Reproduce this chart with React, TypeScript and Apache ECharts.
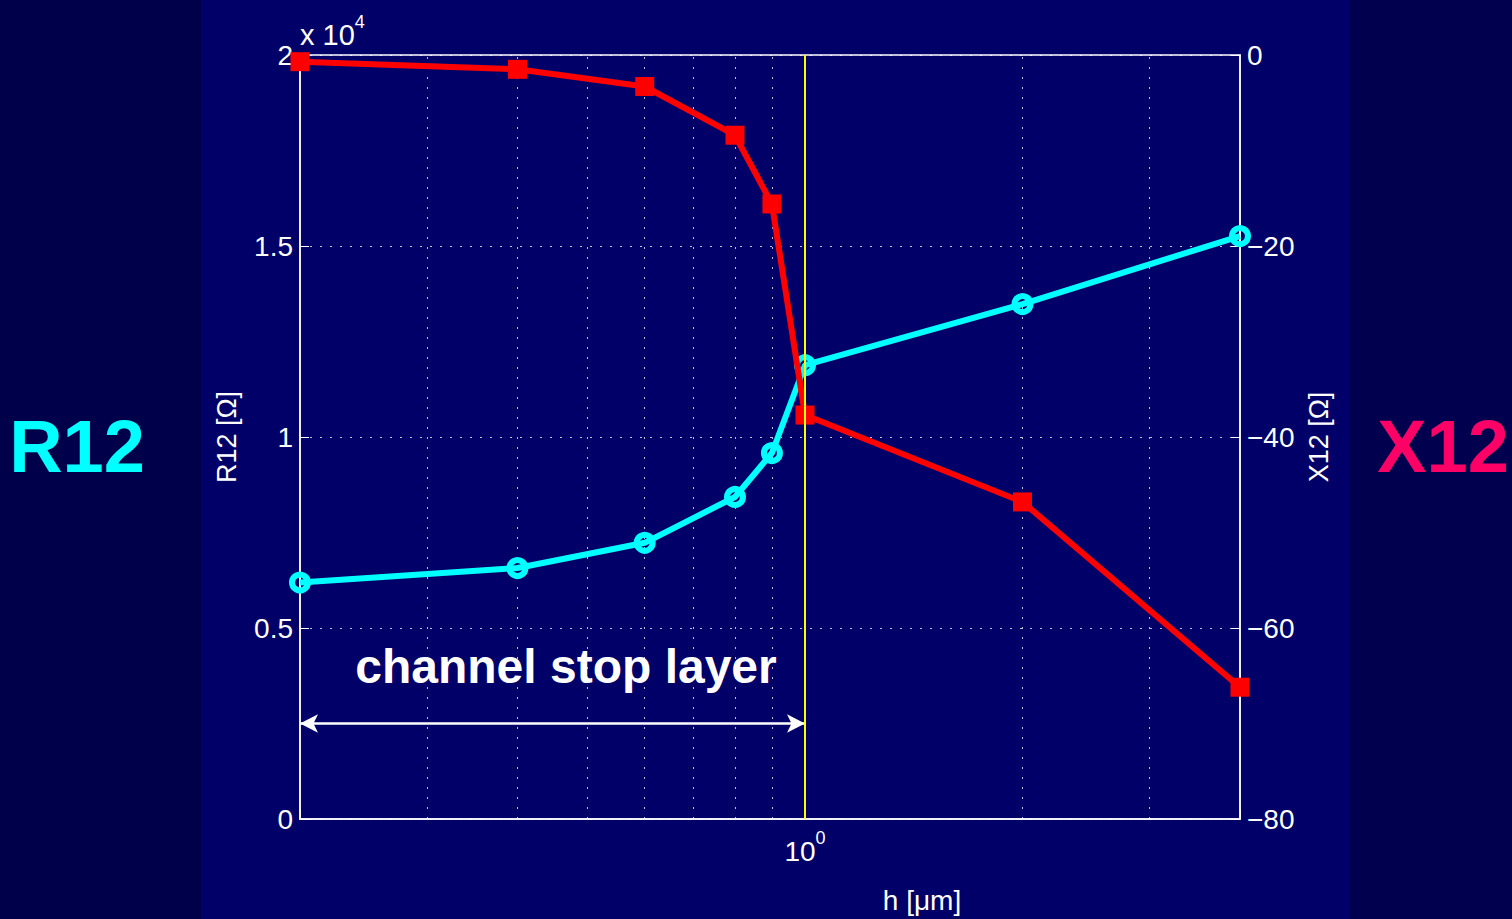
import React, { useEffect, useRef } from "react";
import * as echarts from "echarts";

const hValues = [0.2, 0.4, 0.6, 0.8, 0.9, 1, 2, 4];
const r12Values = [6190, 6570, 7230, 8430, 9580, 11880, 13480, 15260];
const x12Values = [-0.7, -1.5, -3.3, -8.4, -15.6, -37.7, -46.8, -66.2];
const minorGridX = [0.3, 0.4, 0.5, 0.6, 0.7, 0.8, 0.9, 2, 3];
const leftTicks = [0, 5000, 10000, 15000, 20000];
const arrowR = 2500;
const boundaryH = 1;

const FONT = "'Liberation Sans', Arial, Helvetica, sans-serif";
const BG = "#000068";

export default function App() {
  const ref = useRef<HTMLDivElement>(null);
  useEffect(() => {
    if (!ref.current) return;
    const chart = echarts.init(ref.current, undefined, { renderer: "svg" });
    const dotted = { color: "rgba(255,255,255,0.75)", width: 1, type: [2, 8] as any };
    chart.setOption({
      animation: false,
      backgroundColor: BG,
      textStyle: { fontFamily: FONT },
      grid: {
        left: 300,
        right: 272,
        top: 55,
        bottom: 100,
        show: true,
        borderColor: "#ffffff",
        borderWidth: 1.5,
        backgroundColor: "transparent",
      },
      graphic: [
        { type: "rect", z: -10, shape: { x: 0, y: 0, width: 201, height: 919 }, style: { fill: "#00004a" } },
        { type: "rect", z: -10, shape: { x: 1349, y: 0, width: 163, height: 919 }, style: { fill: "#00004e" } },
        {
          type: "text",
          left: 300,
          top: 13,
          style: {
            text: "{b|x 10}{s|4}",
            fill: "#ffffff",
            rich: {
              b: { fontSize: 29, lineHeight: 44, fontFamily: FONT, fill: "#ffffff" },
              s: { fontSize: 18, lineHeight: 18, verticalAlign: "top", fontFamily: FONT, fill: "#ffffff" },
            },
          },
        },
        {
          type: "text",
          x: 922,
          y: 900,
          style: {
            text: "h [μm]",
            fontSize: 28,
            fontFamily: FONT,
            fill: "#ffffff",
            align: "center",
            verticalAlign: "middle",
          },
        },
        {
          type: "text",
          x: 566,
          y: 666,
          style: {
            text: "channel stop layer",
            fontSize: 48,
            fontWeight: "bold",
            fontFamily: FONT,
            fill: "#ffffff",
            align: "center",
            verticalAlign: "middle",
          },
        },
        {
          type: "text",
          x: 77,
          y: 446,
          style: {
            text: "R12",
            fontSize: 74,
            fontWeight: "bold",
            fontFamily: FONT,
            fill: "#00ffff",
            align: "center",
            verticalAlign: "middle",
          },
        },
        {
          type: "text",
          x: 1443,
          y: 446,
          style: {
            text: "X12",
            fontSize: 74,
            fontWeight: "bold",
            fontFamily: FONT,
            fill: "#ff0066",
            align: "center",
            verticalAlign: "middle",
          },
        },
      ],
      xAxis: {
        type: "log",
        logBase: 10,
        min: 0.2,
        max: 4,
        axisLine: { lineStyle: { color: "#ffffff", width: 1.5 } },
        axisTick: { inside: true, length: 9, lineStyle: { color: "#ffffff" } },
        splitLine: { show: false },
        axisLabel: {
          margin: 10,
          showMinLabel: true,
          showMaxLabel: true,
          formatter: (v: number) => (Math.abs(v - 1) < 1e-9 ? "{b|10}{s|0}" : ""),
          rich: {
            b: { fontSize: 28, lineHeight: 44, color: "#ffffff", fontFamily: FONT },
            s: { fontSize: 18, lineHeight: 18, verticalAlign: "top", color: "#ffffff", fontFamily: FONT },
          },
        },
      },
      yAxis: [
        {
          type: "value",
          min: 0,
          max: 20000,
          interval: 5000,
          position: "left",
          name: "R12 [Ω]",
          nameLocation: "middle",
          nameGap: 60,
          nameRotate: 90,
          nameTextStyle: { color: "#ffffff", fontSize: 27, fontFamily: FONT },
          axisLine: { show: true, lineStyle: { color: "#ffffff", width: 1.5 } },
          axisTick: { show: true, inside: true, length: 9, lineStyle: { color: "#ffffff" } },
          axisLabel: {
            color: "#ffffff",
            fontSize: 28,
            margin: 7,
            formatter: (v: number) => (leftTicks.includes(v) ? String(v / 10000) : ""),
          },
          splitLine: { show: true, lineStyle: dotted },
        },
        {
          type: "value",
          min: -80,
          max: 0,
          interval: 20,
          position: "right",
          name: "X12 [Ω]",
          nameLocation: "middle",
          nameGap: 65,
          nameRotate: 90,
          nameTextStyle: { color: "#ffffff", fontSize: 27, fontFamily: FONT },
          axisLine: { show: true, lineStyle: { color: "#ffffff", width: 1.5 } },
          axisTick: { show: true, inside: true, length: 9, lineStyle: { color: "#ffffff" } },
          axisLabel: {
            color: "#ffffff",
            fontSize: 28,
            margin: 7,
            formatter: (v: number) => (v < 0 ? "\u2212" + Math.abs(v) : String(v)),
          },
          splitLine: { show: false },
        },
      ],
      series: [
        {
          name: "R12",
          type: "line",
          yAxisIndex: 0,
          data: hValues.map((h, i) => [h, r12Values[i]]),
          lineStyle: { color: "#00ffff", width: 6 },
          itemStyle: { color: "rgba(0,0,0,0)", borderColor: "#00ffff", borderWidth: 6 },
          symbol: "circle",
          symbolSize: 16,
          z: 3,
          markLine: {
            silent: true,
            symbol: "none",
            label: { show: false },
            lineStyle: dotted,
            data: minorGridX.map((v) => ({ xAxis: v })),
            z: 1,
          },
        },
        {
          name: "X12",
          type: "line",
          yAxisIndex: 1,
          data: hValues.map((h, i) => [h, x12Values[i]]),
          lineStyle: { color: "#ff0000", width: 6 },
          itemStyle: { color: "#ff0000" },
          symbol: "rect",
          symbolSize: 19,
          z: 4,
        },
        {
          name: "annotations",
          type: "line",
          yAxisIndex: 0,
          data: [],
          markLine: {
            silent: true,
            label: { show: false },
            data: [
              [
                { coord: [hValues[0], arrowR], symbol: "arrow", symbolSize: [14, 18] },
                { coord: [boundaryH, arrowR], symbol: "arrow", symbolSize: [14, 18] },
              ],
            ],
            lineStyle: { color: "#ffffff", width: 2.5, type: "solid" },
          },
        },
        {
          name: "boundary",
          type: "line",
          yAxisIndex: 0,
          data: [],
          z: 2,
          markLine: {
            silent: true,
            symbol: "none",
            label: { show: false },
            lineStyle: { color: "#ffff00", width: 2, type: "solid" },
            data: [{ xAxis: boundaryH }],
          },
        },
      ],
    });
    return () => chart.dispose();
  }, []);
  return (
    <div
      ref={ref}
      style={{ position: "fixed", left: 0, top: 0, width: 1512, height: 919 }}
    />
  );
}
